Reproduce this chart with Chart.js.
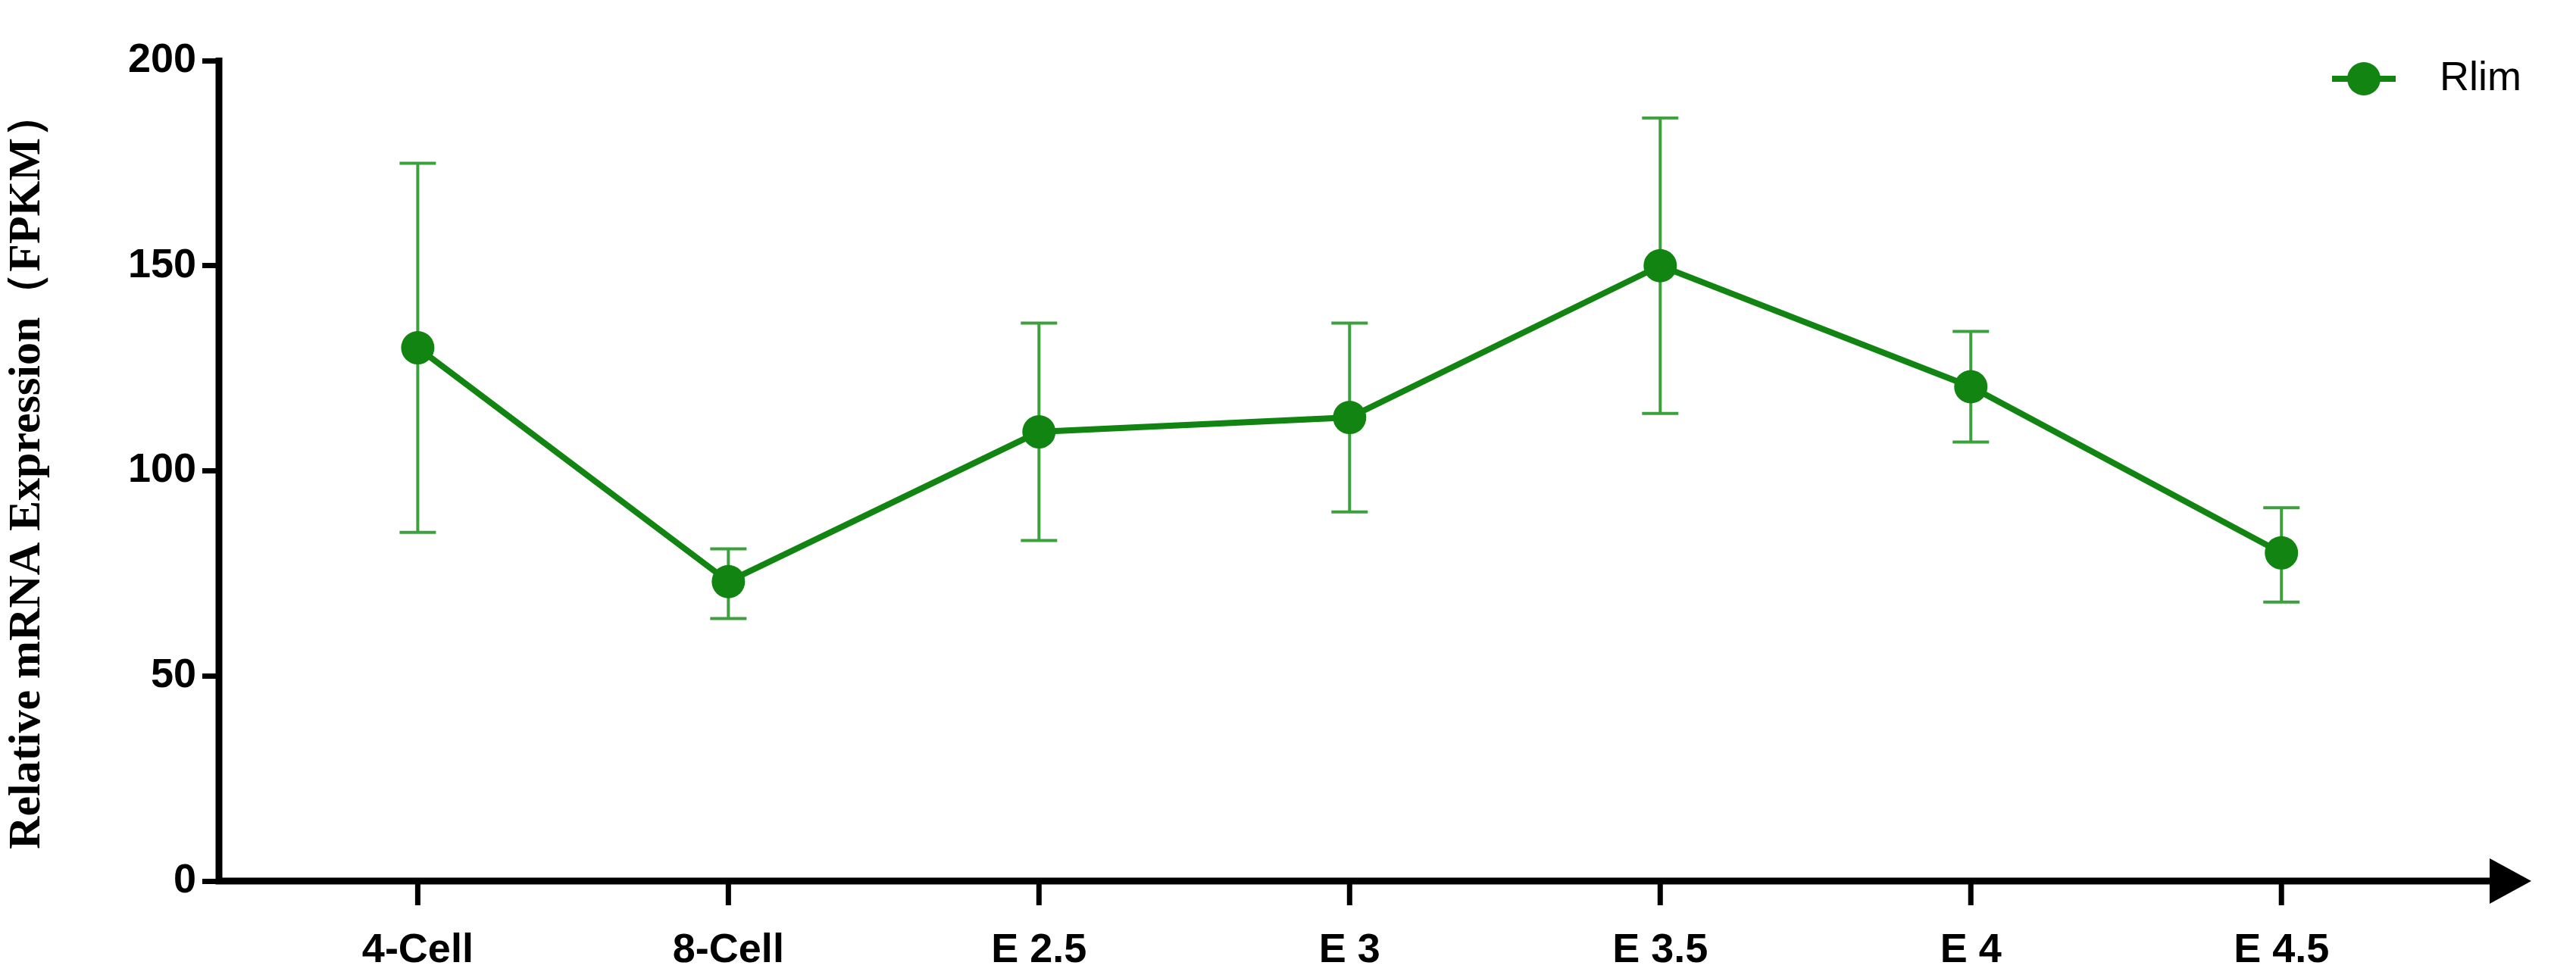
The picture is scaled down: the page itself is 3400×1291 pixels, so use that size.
<!DOCTYPE html>
<html>
<head>
<meta charset="utf-8">
<script src="https://cdn.jsdelivr.net/npm/chart.js@4"></script>
<style>
  html, body { margin: 0; padding: 0; background: #fff; }
  #wrap { width: 3400px; height: 1291px; }
</style>
</head>
<body>
<div id="wrap"><canvas id="myChart" width="3400" height="1291"></canvas></div>
<script>
const categories = ['4-Cell', '8-Cell', 'E 2.5', 'E 3', 'E 3.5', 'E 4', 'E 4.5'];
const rlimMean = [130, 73, 109.5, 113, 150, 120.5, 80];
const rlimLow = [85, 64, 83, 90, 114, 107, 68];
const rlimHigh = [175, 81, 136, 136, 186, 134, 91];
const yTicks = [0, 50, 100, 150, 200];

const green = 'rgb(17,132,17)';

// error bars, axis arrow, x tick marks and legend drawn with the chart's own scales
const extras = {
    id: 'extras',
    beforeDatasetsDraw(chart) {
        const ctx = chart.ctx, x = chart.scales.x, y = chart.scales.y;
        ctx.save();
        ctx.strokeStyle = 'rgb(60,160,60)';
        ctx.lineWidth = 4;
        for (let i = 0; i < rlimMean.length; i++) {
            const px = x.getPixelForValue(i);
            const lo = y.getPixelForValue(rlimLow[i]);
            const hi = y.getPixelForValue(rlimHigh[i]);
            ctx.beginPath();
            ctx.moveTo(px, lo); ctx.lineTo(px, hi);
            ctx.moveTo(px - 24, lo); ctx.lineTo(px + 24, lo);
            ctx.moveTo(px - 24, hi); ctx.lineTo(px + 24, hi);
            ctx.stroke();
        }
        ctx.restore();
    },
    afterDraw(chart) {
        const ctx = chart.ctx, a = chart.chartArea, x = chart.scales.x;
        ctx.save();
        ctx.strokeStyle = '#000';
        ctx.lineWidth = 7;
        ctx.beginPath();
        categories.forEach((c, i) => {
            const px = x.getPixelForValue(i);
            ctx.moveTo(px, a.bottom); ctx.lineTo(px, a.bottom + 32);
        });
        ctx.stroke();
        ctx.lineWidth = 9;
        ctx.beginPath();
        ctx.moveTo(a.left, a.top - 4);
        ctx.lineTo(a.left, a.bottom);
        ctx.lineTo(a.right - 20, a.bottom);
        ctx.stroke();
        ctx.fillStyle = '#000';
        ctx.beginPath();
        ctx.moveTo(a.right + 10, a.bottom);
        ctx.lineTo(a.right - 45, a.bottom - 30);
        ctx.lineTo(a.right - 45, a.bottom + 30);
        ctx.closePath();
        ctx.fill();
        // legend
        const lx = 3120, ly = 104;
        ctx.strokeStyle = green; ctx.fillStyle = green; ctx.lineWidth = 8;
        ctx.beginPath(); ctx.moveTo(lx - 42, ly); ctx.lineTo(lx + 42, ly); ctx.stroke();
        ctx.beginPath(); ctx.arc(lx, ly, 22, 0, Math.PI * 2); ctx.fill();
        ctx.fillStyle = '#000';
        ctx.font = '54px "Liberation Sans"';
        ctx.textBaseline = 'middle';
        ctx.fillText(chart.data.datasets[0].label, lx + 100, ly);
        ctx.restore();
    }
};

new Chart(document.getElementById('myChart'), {
    type: 'line',
    data: {
        datasets: [{
            label: 'Rlim',
            data: rlimMean.map((v, i) => ({ x: i, y: v })),
            borderColor: green,
            backgroundColor: green,
            borderWidth: 8,
            pointRadius: 22,
            pointBorderWidth: 0,
            tension: 0
        }]
    },
    options: {
        responsive: false,
        animation: false,
        layout: { padding: { top: 80, right: 69, left: 0, bottom: 0 } },
        plugins: { legend: { display: false }, tooltip: { enabled: false } },
        scales: {
            x: {
                type: 'linear',
                min: -0.64,
                max: 6.78,
                afterBuildTicks: s => { s.ticks = categories.map((c, i) => ({ value: i })); },
                afterFit: s => { s.height = 128; },
                grid: { display: false, drawOnChartArea: false },
                border: { display: false },
                ticks: {
                    callback: v => categories[v],
                    color: '#000',
                    padding: 52,
                    font: { family: 'Liberation Sans', size: 54, weight: 'bold' }
                }
            },
            y: {
                min: 0,
                max: 200,
                afterBuildTicks: s => { s.ticks = yTicks.map(v => ({ value: v })); },
                afterFit: s => { s.width = 289; },
                grid: { drawOnChartArea: false, tickLength: 22, tickWidth: 7, tickColor: '#000' },
                border: { display: false },
                ticks: {
                    color: '#000',
                    padding: 8,
                    font: { family: 'Liberation Sans', size: 54, weight: 'bold' }
                },
                title: {
                    display: true,
                    text: 'Relative mRNA Expression（FPKM）',
                    color: '#000',
                    padding: { top: 0, bottom: 40 },
                    font: { family: 'Liberation Serif', size: 60, weight: 'bold' }
                }
            }
        }
    },
    plugins: [extras]
});
</script>
</body>
</html>
